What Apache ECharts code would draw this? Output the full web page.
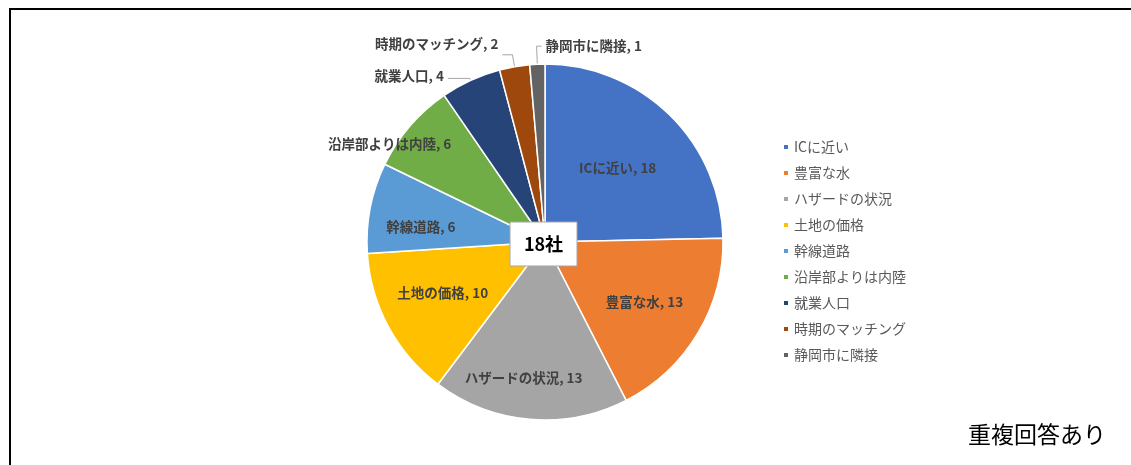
<!DOCTYPE html>
<html>
<head>
<meta charset="utf-8">
<script src="https://cdn.jsdelivr.net/npm/echarts@6/dist/echarts.min.js"></script>
<style>
  html, body { margin: 0; padding: 0; background: #ffffff; }
  #chart { width: 1131px; height: 465px; }
</style>
</head>
<body>
<div id="chart"></div>
<script>
// Reasons given for choosing a site (multiple answers allowed)
const categories = ['ICに近い', '豊富な水', 'ハザードの状況', '土地の価格', '幹線道路', '沿岸部よりは内陸', '就業人口', '時期のマッチング', '静岡市に隣接'];
const counts = [18, 13, 13, 10, 6, 6, 4, 2, 1];
const respondentsLabel = '18社';
const noteLabel = '重複回答あり';

// Office palette
const sliceColors = ['#4472C4', '#ED7D31', '#A5A5A5', '#FFC000', '#5B9BD5', '#70AD47', '#264478', '#9E480E', '#636363'];

// In-slice labels: how far out they sit (relative to the default half radius)
// and how many degrees they are turned away from the slice's middle
const labelReach = [1.13, 1.26, 1.5, 1.24, 1.36, 2.0, null, null, null];
const labelTurn = [0, 0, 4, 2, -4, -8.3, 0, 0, 0];
// Small slices get a leader line: [radial length, horizontal length, side]
const leaderLines = { 6: [2, 22, 'left'], 7: [12, 10, 'left'], 8: [18, 5, 'right'] };

const pieCenter = [545, 242];
const pieRadius = 178;
const FONT = '"Noto Sans CJK JP", "Noto Sans", sans-serif';

const chart = echarts.init(document.getElementById('chart'), null, { renderer: 'canvas' });

const pieData = categories.map((name, i) => {
  const item = { name: name, value: counts[i], itemStyle: { color: sliceColors[i] } };
  if (leaderLines[i]) {
    item.label = { position: 'outside' };
    item.labelLine = { show: true, length: leaderLines[i][0], length2: leaderLines[i][1] };
  } else {
    item.label = { position: 'inside' };
    item.labelLine = { show: false };
  }
  return item;
});

const boxW = 67, boxH = 44;
const boxCx = pieCenter[0] - 1.5, boxCy = pieCenter[1] + 2;

chart.setOption({
  backgroundColor: '#ffffff',
  animation: false,
  legend: {
    orient: 'vertical',
    left: 777,
    top: 135,
    itemWidth: 6,
    itemHeight: 6,
    itemGap: 12,
    icon: 'rect',
    selectedMode: false,
    data: categories,
    textStyle: { fontFamily: FONT, fontSize: 14, color: '#595959' }
  },
  graphic: [
    // frame edges
    { type: 'line', z: 50, shape: { x1: 9, y1: 9, x2: 1131, y2: 9 }, style: { stroke: '#000000', lineWidth: 2 } },
    { type: 'line', z: 50, shape: { x1: 10, y1: 8, x2: 10, y2: 465 }, style: { stroke: '#000000', lineWidth: 2 } },
    // respondent count in the middle of the pie
    {
      type: 'rect', z: 100,
      shape: { x: boxCx - boxW / 2, y: boxCy - boxH / 2, width: boxW, height: boxH },
      style: { fill: '#ffffff', stroke: '#a6a6a6', lineWidth: 1 }
    },
    {
      type: 'text', z: 101,
      x: boxCx, y: boxCy,
      style: { text: respondentsLabel, align: 'center', verticalAlign: 'middle', font: 'bold 18px ' + FONT, fill: '#000000' }
    },
    {
      type: 'text', right: 25, top: 423, z: 100,
      style: { text: noteLabel, font: '23px ' + FONT, fill: '#000000' }
    }
  ],
  series: [{
    type: 'pie',
    center: pieCenter,
    radius: [0, pieRadius],
    startAngle: 90,
    clockwise: true,
    avoidLabelOverlap: false,
    itemStyle: { borderColor: '#ffffff', borderWidth: 1.5 },
    emphasis: { disabled: true },
    label: {
      formatter: '{b}, {c}',
      fontFamily: FONT,
      fontSize: 13.5,
      fontWeight: 'bold',
      color: '#404040'
    },
    labelLine: { lineStyle: { color: '#a6a6a6', width: 1 }, smooth: false },
    labelLayout: function (p) {
      const i = p.dataIndex;
      const reach = labelReach[i];
      if (reach) {
        const r = p.labelRect;
        const ox = r.x + r.width / 2 - pieCenter[0];
        const oy = r.y + r.height / 2 - pieCenter[1];
        const t = labelTurn[i] * Math.PI / 180;
        const nx = (ox * Math.cos(t) - oy * Math.sin(t)) * reach;
        const ny = (ox * Math.sin(t) + oy * Math.cos(t)) * reach;
        return { dx: nx - ox, dy: ny - oy };
      }
      const cfg = leaderLines[i];
      const pts = p.labelLinePoints;
      if (!cfg || !pts) return {};
      const bend = pts[1];
      const dir = cfg[2] === 'right' ? 1 : -1;
      const end = [bend[0] + dir * cfg[1], bend[1]];
      const out = {
        x: end[0] + dir * 4,
        y: end[1],
        align: dir > 0 ? 'left' : 'right',
        verticalAlign: 'middle',
        labelLinePoints: [pts[0], bend, end]
      };
      if (i === 7) { out.verticalAlign = 'bottom'; out.y = end[1] - 4; }
      if (i === 6) { out.y = end[1] - 3; }
      return out;
    },
    data: pieData
  }]
});
</script>
</body>
</html>
